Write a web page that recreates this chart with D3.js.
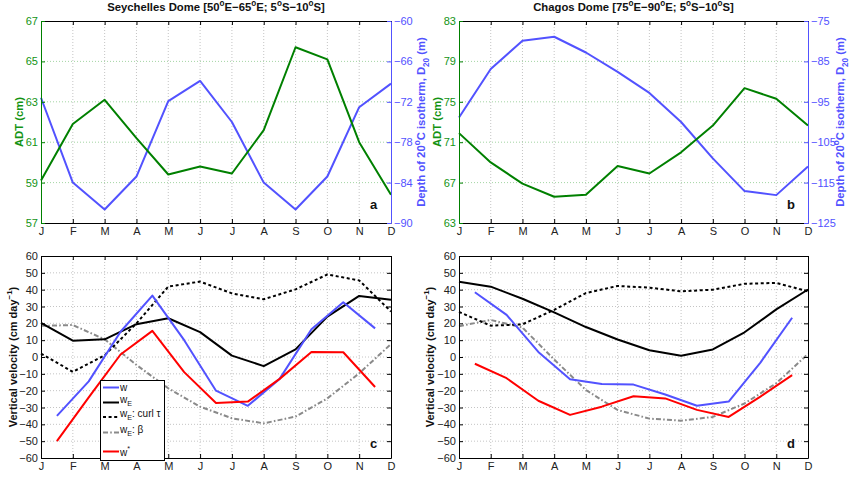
<!DOCTYPE html>
<html>
<head>
<meta charset="utf-8">
<script src="https://cdn.jsdelivr.net/npm/d3@7"></script>
<style>
  html, body { margin: 0; padding: 0; background: #fff; }
  svg { display: block; font-family: "Liberation Sans", Arial, Helvetica, sans-serif; }
</style>
</head>
<body>
<script>
// Month labels shared by all panels
const months = ["J", "F", "M", "A", "M", "J", "J", "A", "S", "O", "N", "D"];

// Seychelles Dome: ADT (cm) and depth of the 20°C isotherm (m), monthly
const seyADT = [59.1, 61.9, 63.1, 61.2, 59.4, 59.8, 59.45, 61.6, 65.7, 65.1, 61.0, 58.4];
const seyD20 = [-71.4, -84.0, -88.0, -83.1, -71.9, -68.9, -75.0, -84.0, -88.0, -83.1, -72.8, -69.3];
const seyADTTicks = [57, 59, 61, 63, 65, 67];
const seyD20Ticks = [-90, -84, -78, -72, -66, -60];

// Chagos Dome: ADT (cm) and depth of the 20°C isotherm (m), monthly
const chaADT = [71.9, 69.0, 66.9, 65.6, 65.8, 68.65, 67.9, 70.0, 72.65, 76.35, 75.3, 72.65];
const chaD20 = [-98.9, -86.9, -79.9, -78.9, -82.8, -87.6, -92.8, -100.0, -109.0, -117.1, -118.1, -111.0];
const chaADTTicks = [63, 67, 71, 75, 79, 83];
const chaD20Ticks = [-125, -115, -105, -95, -85, -75];

// Vertical velocities (cm/day). w and w* sit between months; wE terms at months.
const seyW     = [-35, -14.5, 15, 36.5, 10, -20, -29, -13, 16.5, 32.5, 17];
const seyWstar = [-50, -24, 1.5, 15.5, -9, -27.3, -26.5, -13, 3, 2.8, -17.8];
const seyWE    = [20.3, 9.7, 10.5, 19.5, 23, 14.8, 0.8, -5.4, 4.5, 24, 36.3, 34];
const seyCurl  = [2, -8.8, 1, 20, 41.8, 44.8, 37.8, 34.3, 40.2, 49, 45.5, 27];
const seyBeta  = [18.5, 19, 10.5, -4.7, -18.6, -29.5, -36.4, -39.4, -35.4, -24.6, -9.7, 7.7];

const chaW     = [38.5, 25, 3, -13.2, -16, -16.4, -22.3, -29, -26.5, -3.3, 23.3];
const chaWstar = [-4, -12.6, -26, -34.4, -29.5, -23.3, -24.6, -31.4, -35.6, -23.5, -10.8];
const chaWE    = [44.7, 41.8, 34.6, 26.5, 17.8, 10.4, 4, 0.8, 4.5, 14.7, 28.3, 40.1];
const chaCurl  = [26.8, 18.6, 19.4, 28, 38, 42.2, 41.2, 39, 40, 43.5, 44, 39];
const chaBeta  = [18.3, 22, 17.5, -1.5, -19.6, -31.5, -36.6, -37.8, -35.6, -27.6, -15.6, 1.8];

const velTicks = d3.range(-60, 61, 10);

const GREEN = "#008000", GREEN_TXT = "#139313", BLUE = "#5252ff", RED = "#ff0000", GREY = "#8a8a8a";
const FONT = 11;

const svg = d3.select("body").append("svg").attr("width", 850).attr("height", 477);

// Text with super/subscript parts: [string, "sup" | "sub" | null]
function rich(sel, parts, size) {
  let off = 0;
  parts.forEach(([t, k]) => {
    const target = k === "sup" ? -0.42 * size : k === "sub" ? 0.32 * size : 0;
    sel.append("tspan").attr("dy", target - off)
      .attr("font-size", k ? size * 0.72 : size).text(t);
    off = target;
  });
  return sel;
}

// "Name [aºE−bºE; cºS−dºS]"
function regionTitle(name, a, b, c, d) {
  return [[name + " [" + a, null], ["o", "sup"], ["E\u2212" + b, null], ["o", "sup"],
          ["E; " + c, null], ["o", "sup"], ["S\u2212" + d, null], ["o", "sup"], ["S]", null]];
}

function gridLines(g, x, y, yTicks, x0, x1, y0, y1, hColor) {
  g.append("g").selectAll("line").data(d3.range(1, 11)).join("line")
    .attr("x1", d => x(d)).attr("x2", d => x(d)).attr("y1", y0).attr("y2", y1)
    .attr("stroke", "#b5b5b5").attr("stroke-width", 0.8).attr("stroke-dasharray", "1,2");
  g.append("g").selectAll("line").data(yTicks.slice(1, -1)).join("line")
    .attr("x1", x0).attr("x2", x1).attr("y1", d => y(d)).attr("y2", d => y(d))
    .attr("stroke", hColor).attr("stroke-width", 0.8).attr("stroke-dasharray", "1,2");
}

function styleAxis(g, color, fontColor) {
  g.selectAll("path").attr("stroke", color).attr("stroke-width", 1);
  g.selectAll("line").attr("stroke", color).attr("stroke-width", 1);
  g.selectAll("text").attr("fill", fontColor).attr("font-size", FONT)
    .attr("font-family", "'Liberation Sans', Arial, sans-serif");
}

function monthAxes(g, x, y0, y1) {
  const bottom = g.append("g").attr("transform", `translate(0,${y1})`)
    .call(d3.axisBottom(x).tickValues(d3.range(12)).tickFormat(i => months[i])
      .tickSize(-4).tickSizeOuter(0).tickPadding(4));
  styleAxis(bottom, "#000", "#222");
  const top = g.append("g").attr("transform", `translate(0,${y0})`)
    .call(d3.axisTop(x).tickValues(d3.range(12)).tickFormat("").tickSize(-4).tickSizeOuter(0));
  styleAxis(top, "#000", "#000");
}

function topPanel(o) {
  const g = svg.append("g");
  const x = d3.scaleLinear().domain([0, 11]).range([o.x0, o.x1]);
  const yL = d3.scaleLinear().domain(d3.extent(o.adtTicks)).range([o.y1, o.y0]);
  const yR = d3.scaleLinear().domain(d3.extent(o.d20Ticks)).range([o.y1, o.y0]);

  gridLines(g, x, yL, o.adtTicks, o.x0, o.x1, o.y0, o.y1, "#8cc98c");

  const line = (ys) => d3.line().x((d, i) => x(i)).y(d => ys(d));
  g.append("path").datum(o.d20).attr("d", line(yR)).attr("fill", "none")
    .attr("stroke", BLUE).attr("stroke-width", 2).attr("stroke-linejoin", "round");
  g.append("path").datum(o.adt).attr("d", line(yL)).attr("fill", "none")
    .attr("stroke", GREEN).attr("stroke-width", 2).attr("stroke-linejoin", "round");

  monthAxes(g, x, o.y0, o.y1);

  const left = g.append("g").attr("transform", `translate(${o.x0},0)`)
    .call(d3.axisLeft(yL).tickValues(o.adtTicks).tickSize(-4).tickSizeOuter(0).tickPadding(3));
  styleAxis(left, GREEN, GREEN_TXT);
  const right = g.append("g").attr("transform", `translate(${o.x1},0)`)
    .call(d3.axisRight(yR).tickValues(o.d20Ticks).tickSize(-4).tickSizeOuter(0).tickPadding(3));
  styleAxis(right, BLUE, BLUE);

  rich(g.append("text").attr("x", (o.x0 + o.x1) / 2).attr("y", 10.5).attr("text-anchor", "middle")
    .attr("font-weight", "bold").attr("fill", "#111"), o.title, 11.3);

  g.append("text").attr("transform", `translate(${o.leftLabelX},${(o.y0 + o.y1) / 2}) rotate(-90)`)
    .attr("text-anchor", "middle").attr("font-weight", "bold").attr("font-size", 11.3)
    .attr("fill", GREEN_TXT).text("ADT (cm)");

  rich(g.append("text").attr("transform", `translate(${o.rightLabelX},${(o.y0 + o.y1) / 2}) rotate(-90)`)
    .attr("text-anchor", "middle").attr("font-weight", "bold").attr("fill", BLUE),
    [["Depth of 20", null], ["o", "sup"], ["C isotherm, D", null], ["20", "sub"], [" (m)", null]], 11.3);

  g.append("text").attr("x", o.x1 - 21).attr("y", o.y1 - 14).attr("font-weight", "bold")
    .attr("font-size", 13).attr("fill", "#111").text(o.letter);
}

function bottomPanel(o) {
  const g = svg.append("g");
  const x = d3.scaleLinear().domain([0, 11]).range([o.x0, o.x1]);
  const y = d3.scaleLinear().domain([-60, 60]).range([o.y1, o.y0]);

  gridLines(g, x, y, velTicks, o.x0, o.x1, o.y0, o.y1, "#b5b5b5");

  const monthly = d3.line().x((d, i) => x(i)).y(d => y(d));
  const midMonth = d3.line().x((d, i) => x(i + 0.5)).y(d => y(d));
  const draw = (data, gen, color, dash) => g.append("path").datum(data).attr("d", gen)
    .attr("fill", "none").attr("stroke", color).attr("stroke-width", 2)
    .attr("stroke-linejoin", "round").attr("stroke-dasharray", dash || null);

  draw(o.beta, monthly, GREY, "5,2.2,1.6,2.2");
  draw(o.curl, monthly, "#000", "3,2.6");
  draw(o.wE, monthly, "#000");
  draw(o.w, midMonth, BLUE);
  draw(o.wstar, midMonth, RED);

  monthAxes(g, x, o.y0, o.y1);
  const left = g.append("g").attr("transform", `translate(${o.x0},0)`)
    .call(d3.axisLeft(y).tickValues(velTicks).tickSize(-4).tickSizeOuter(0).tickPadding(3));
  styleAxis(left, "#000", "#222");
  const right = g.append("g").attr("transform", `translate(${o.x1},0)`)
    .call(d3.axisRight(y).tickValues(velTicks).tickFormat("").tickSize(-4).tickSizeOuter(0));
  styleAxis(right, "#000", "#000");

  rich(g.append("text").attr("transform", `translate(${o.labelX},${(o.y0 + o.y1) / 2}) rotate(-90)`)
    .attr("text-anchor", "middle").attr("font-weight", "bold").attr("fill", "#111"),
    [["Vertical velocity (cm day", null], ["\u22121", "sup"], [")", null]], 11);

  g.append("text").attr("x", o.x1 - 21).attr("y", o.y1 - 10).attr("font-weight", "bold")
    .attr("font-size", 13).attr("fill", "#111").text(o.letter);
  return g;
}

topPanel({
  x0: 41, x1: 391, y0: 21, y1: 223, adt: seyADT, d20: seyD20,
  adtTicks: seyADTTicks, d20Ticks: seyD20Ticks, letter: "a",
  leftLabelX: 23, rightLabelX: 425,
  title: regionTitle("Seychelles Dome", "50", "65", "5", "10")
});
topPanel({
  x0: 459, x1: 808, y0: 21, y1: 223, adt: chaADT, d20: chaD20,
  adtTicks: chaADTTicks, d20Ticks: chaD20Ticks, letter: "b",
  leftLabelX: 441, rightLabelX: 844,
  title: regionTitle("Chagos Dome", "75", "90", "5", "10")
});

bottomPanel({
  x0: 41, x1: 391, y0: 256, y1: 458, letter: "c", labelX: 16.5,
  w: seyW, wstar: seyWstar, wE: seyWE, curl: seyCurl, beta: seyBeta
});
bottomPanel({
  x0: 459, x1: 808, y0: 256, y1: 458, letter: "d", labelX: 434,
  w: chaW, wstar: chaWstar, wE: chaWE, curl: chaCurl, beta: chaBeta
});

// Legend for the vertical velocity terms
const legendItems = [
  { color: BLUE, dash: null, y: 387.5, label: [["w", null]], base: 3 },
  { color: "#000", dash: null, y: 402.5, label: [["w", null], ["E", "sub"]], base: 0 },
  { color: "#000", dash: "3,2.6", y: 417, label: [["w", null], ["E", "sub"], [": curl \u03c4", null]], base: 0 },
  { color: GREY, dash: "5,2.2,1.6,2.2", y: 432.5, label: [["w", null], ["E", "sub"], [": \u03b2", null]], base: 0 },
  { color: RED, dash: null, y: 451.5, label: [["w", null], ["*", "sup"]], base: 4 }
];
const lg = svg.append("g");
lg.append("rect").attr("x", 100.5).attr("y", 380.5).attr("width", 64).attr("height", 80)
  .attr("fill", "#fff").attr("stroke", "#000").attr("stroke-width", 1);
legendItems.forEach(it => {
  lg.append("line").attr("x1", 103).attr("x2", 119).attr("y1", it.y).attr("y2", it.y)
    .attr("stroke", it.color).attr("stroke-width", 2).attr("stroke-dasharray", it.dash);
  rich(lg.append("text").attr("x", 120).attr("y", it.y + it.base).attr("fill", "#111"), it.label, 10);
});
</script>
</body>
</html>
